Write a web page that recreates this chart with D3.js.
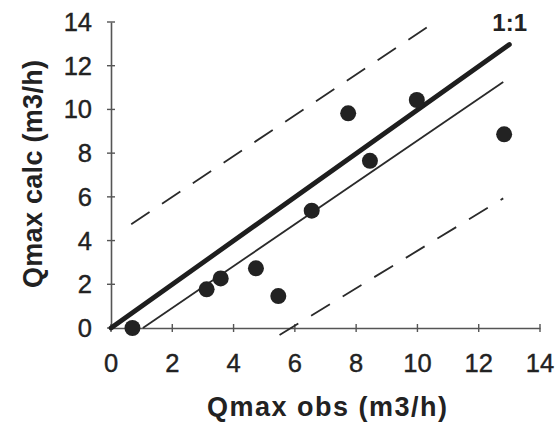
<!DOCTYPE html>
<html>
<head>
<meta charset="utf-8">
<script src="https://cdn.jsdelivr.net/npm/d3@7"></script>
<style>
  html, body { margin: 0; padding: 0; background: #fff; }
  svg { display: block; }
  text { font-family: "Liberation Sans", Arial, Helvetica, sans-serif; fill: #222; }
</style>
</head>
<body>
<script>
// ---- data ----
const obs  = [0.7, 3.12, 3.58, 4.73, 5.46, 6.55, 7.74, 8.45, 9.98, 12.83];
const calc = [0.0, 1.77, 2.27, 2.73, 1.46, 5.37, 9.82, 7.65, 10.43, 8.86];
const xTicks = [0, 2, 4, 6, 8, 10, 12, 14];
const yTicks = [0, 2, 4, 6, 8, 10, 12, 14];
const oneToOneLine = [[0, 0], [13, 12.97]];
const fitLine      = [[1.04, 0], [12.8, 11.25]];
const upperBound   = [[0.66, 4.75], [10.57, 14.0]];
const lowerBound   = [[5.5, -0.32], [12.8, 5.93]];
const xTitle = "Qmax obs (m3/h)";
const yTitle = "Qmax calc (m3/h)";
const lineLabel = "1:1";

// ---- layout ----
const W = 558, H = 427;
const svg = d3.select("body").append("svg").attr("width", W).attr("height", H);

const x = d3.scaleLinear().domain([0, 14]).range([111, 540]);
const y = d3.scaleLinear().domain([0, 14]).range([328, 22]);

// axes
const axisColor = "#555";
const gx = svg.append("g").attr("transform", `translate(0,${y(0)})`)
  .call(d3.axisBottom(x).tickValues(xTicks).tickSize(0).tickPadding(0).tickFormat(""));
gx.select(".domain").attr("stroke", axisColor).attr("stroke-width", 1.6);
const gy = svg.append("g").attr("transform", `translate(${x(0)},0)`)
  .call(d3.axisLeft(y).tickValues(yTicks).tickSize(0).tickFormat(""));
gy.select(".domain").attr("stroke", axisColor).attr("stroke-width", 1.6);

// crossing tick marks
svg.append("g").selectAll("line").data(xTicks).join("line")
  .attr("x1", d => x(d)).attr("x2", d => x(d))
  .attr("y1", y(0) - 4).attr("y2", y(0) + 4)
  .attr("stroke", axisColor).attr("stroke-width", 1.4);
svg.append("g").selectAll("line").data(yTicks).join("line")
  .attr("y1", d => y(d)).attr("y2", d => y(d))
  .attr("x1", x(0) - 4).attr("x2", x(0) + 4)
  .attr("stroke", axisColor).attr("stroke-width", 1.4);

// tick labels
svg.append("g").selectAll("text").data(xTicks).join("text")
  .attr("x", d => x(d)).attr("y", y(0) + 44)
  .attr("text-anchor", "middle").attr("font-size", 25.5)
  .attr("stroke", "#222").attr("stroke-width", 0.4)
  .text(d => d);
svg.append("g").selectAll("text").data(yTicks).join("text")
  .attr("x", x(0) - 19).attr("y", d => y(d) + 9)
  .attr("text-anchor", "end").attr("font-size", 25.5)
  .attr("stroke", "#222").attr("stroke-width", 0.4)
  .text(d => d);

// axis titles
svg.append("text")
  .attr("x", 327).attr("y", 416)
  .attr("text-anchor", "middle").attr("font-size", 27).attr("font-weight", "bold")
  .attr("textLength", 240).attr("lengthAdjust", "spacing")
  .text(xTitle);
svg.append("text")
  .attr("transform", "translate(42,174) rotate(-90)")
  .attr("text-anchor", "middle").attr("font-size", 27).attr("font-weight", "bold")
  .attr("textLength", 228).attr("lengthAdjust", "spacing")
  .text(yTitle);

// lines
const line = d3.line().x(d => x(d[0])).y(d => y(d[1]));
const ink = "#2a2a2a";
svg.append("path").datum(upperBound).attr("d", line)
  .attr("fill", "none").attr("stroke", ink).attr("stroke-width", 1.8)
  .attr("stroke-dasharray", "22,15");
svg.append("path").datum(lowerBound).attr("d", line)
  .attr("fill", "none").attr("stroke", ink).attr("stroke-width", 1.8)
  .attr("stroke-dasharray", "22,15");
svg.append("path").datum(fitLine).attr("d", line)
  .attr("fill", "none").attr("stroke", ink).attr("stroke-width", 1.8);
svg.append("path").datum(oneToOneLine).attr("d", line)
  .attr("fill", "none").attr("stroke", "#1e1e1e").attr("stroke-width", 4.8)
  .attr("stroke-linecap", "round");

// 1:1 label
svg.append("text")
  .attr("x", 527).attr("y", 31)
  .attr("text-anchor", "end").attr("font-size", 24).attr("font-weight", "bold")
  .text(lineLabel);

// points
svg.append("g").selectAll("circle").data(obs).join("circle")
  .attr("cx", d => x(d)).attr("cy", (d, i) => y(calc[i]))
  .attr("r", 8).attr("fill", "#222");
</script>
</body>
</html>
